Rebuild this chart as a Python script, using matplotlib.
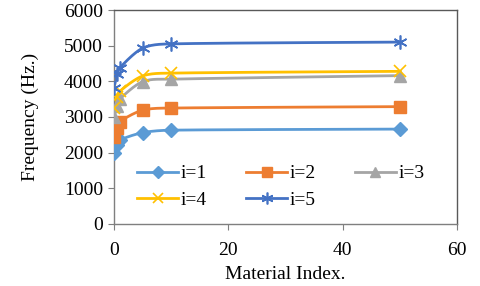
import numpy as np
import matplotlib
matplotlib.use("Agg")
import matplotlib.pyplot as plt

x = [0, 0.5, 1, 5, 10, 50]
labels = ["i=1", "i=2", "i=3", "i=4", "i=5"]
f1 = [1980, 2200, 2350, 2560, 2630, 2660]
f2 = [2450, 2700, 2870, 3190, 3250, 3290]
f3 = [3000, 3300, 3500, 3990, 4060, 4160]
f4 = [3250, 3550, 3720, 4150, 4230, 4280]
f5 = [3800, 4200, 4380, 4930, 5050, 5100]
series = [f1, f2, f3, f4, f5]
colors = ["#5B9BD5", "#ED7D31", "#A5A5A5", "#FFC000", "#4472C4"]
markers = ["D", "s", "^", "x", (6, 2, 0)]
msizes = [7, 9, 8.5, 9, 10]

def smooth(xs, ys, n=30, t=0.5):
    xs = np.asarray(xs, float); ys = np.asarray(ys, float)
    px = np.concatenate([[xs[0]], xs, [xs[-1]]])
    py = np.concatenate([[ys[0]], ys, [ys[-1]]])
    ox, oy = [], []
    for i in range(1, len(px) - 2):
        p0 = np.array([px[i-1], py[i-1]]); p1 = np.array([px[i], py[i]])
        p2 = np.array([px[i+1], py[i+1]]); p3 = np.array([px[i+2], py[i+2]])
        m1 = (p2 - p0) * t / 3
        m2 = (p3 - p1) * t / 3
        seg = p2 - p1
        c1 = p1 + m1 * min(1.0, abs(seg[0]) / (abs(m1[0]) * 3 + 1e-9))
        c2 = p2 - m2 * min(1.0, abs(seg[0]) / (abs(m2[0]) * 3 + 1e-9))
        s = np.linspace(0, 1, n)[:, None]
        b = (1-s)**3 * p1 + 3*(1-s)**2*s*c1 + 3*(1-s)*s**2*c2 + s**3*p2
        ox.extend(b[:, 0]); oy.extend(b[:, 1])
    return np.array(ox), np.array(oy)

plt.rcParams['font.family'] = ['Liberation Serif', 'DejaVu Serif']
fig = plt.figure(figsize=(4.8, 2.86), dpi=100)
ax = fig.add_axes([0.2375, 0.217, 0.715, 0.748])

handles = []
for ys, c, m, ms, lab in zip(series, colors, markers, msizes, labels):
    mew = 1.2 if m in ('x',) or isinstance(m, tuple) else 1
    sx, sy = smooth(x, ys)
    ax.plot(sx, sy, color=c, lw=2.0, zorder=2)
    ax.plot(x, ys, ls='none', marker=m, color=c, ms=ms, mew=mew, zorder=3)
    h, = ax.plot([], [], color=c, lw=2.0, marker=m, ms=ms * 0.85, mew=mew, label=lab)
    handles.append(h)

ax.set_xlim(0, 60)
ax.set_ylim(0, 6000)
ax.set_xticks([0, 20, 40, 60])
ax.set_yticks(range(0, 6001, 1000))
for s in ax.spines.values():
    s.set_color('#7F7F7F')
    s.set_linewidth(1.0)
ax.spines['top'].set_color('#595959')
ax.spines['right'].set_color('#595959')
ax.tick_params(direction='out', length=4, color='#7F7F7F', labelsize=14, pad=4)
ax.tick_params(axis='x', pad=9)
ax.set_xlabel("Material Index.", fontsize=14, labelpad=5)
ax.set_ylabel("Frequency (Hz.)", fontsize=14, labelpad=18)

order = [0, 3, 1, 4, 2]
leg = ax.legend(handles=[handles[i] for i in order], ncol=3, loc='lower left',
                bbox_to_anchor=(0.045, 0.035),
                frameon=False, fontsize=14, handlelength=2.1, columnspacing=2.0,
                handletextpad=0.15, labelspacing=0.45, borderaxespad=0)

fig.savefig("out.png", dpi=100)
